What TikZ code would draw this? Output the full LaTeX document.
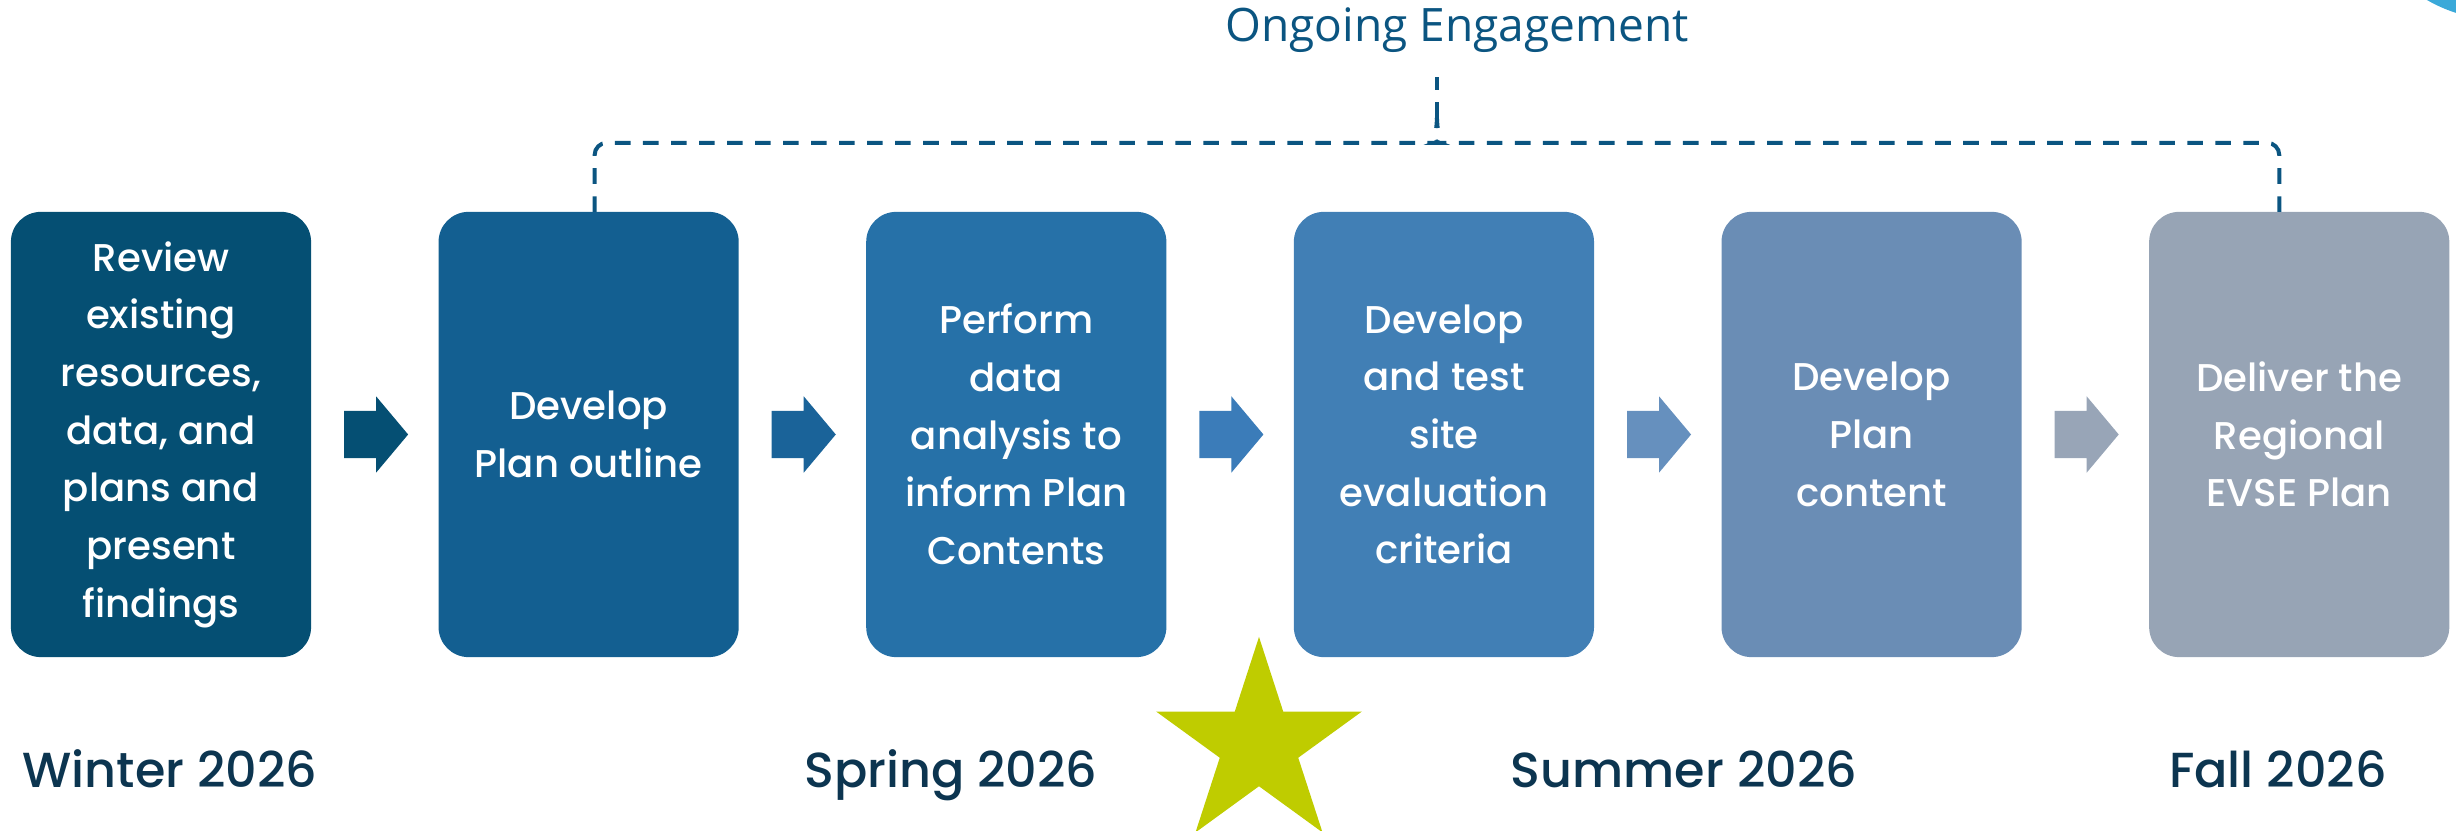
\documentclass[tikz,border=0pt]{standalone}
\usepackage{fontspec}
\setmainfont{Poppins Medium}
\newfontfamily\headfont{Open Sans}
\usepackage{xcolor}
\usetikzlibrary{calc,positioning,shapes.geometric,shapes.arrows}
\definecolor{stageA}{HTML}{054F73}
\definecolor{stageB}{HTML}{135F91}
\definecolor{stageC}{HTML}{2671A8}
\definecolor{stageD}{HTML}{417FB5}
\definecolor{stageE}{HTML}{6A8DB5}
\definecolor{stageF}{HTML}{97A4B5}
\definecolor{flowB}{HTML}{1A6399}
\definecolor{flowC}{HTML}{3B7CB9}
\definecolor{flowD}{HTML}{6690BE}
\definecolor{flowE}{HTML}{98A5B7}
\definecolor{linkblue}{HTML}{0B5581}
\definecolor{seasontext}{HTML}{0C3550}
\definecolor{goalyellow}{HTML}{BFCC00}
\definecolor{cornercyan}{HTML}{3AA9D9}
\tikzset{%
	stage/.style    = {rectangle, rounded corners=3mm, outer sep=0pt, minimum width=3cm, minimum height=4.45cm, text centered, align=center, text=white, font=\fontsize{11}{16.4}\selectfont},
	flow/.style     = {single arrow, anchor=west, outer sep=0pt, minimum height=6.4mm, inner xsep=0pt, inner ysep=2.3mm, single arrow head extend=1.45mm, single arrow tip angle=100},
	season/.style   = {anchor=base, text=seasontext, font=\fontsize{14}{17}\selectfont},
	bracket/.style  = {draw=linkblue, line width=0.4mm, dash pattern=on 1.56mm off 1.24mm},
	goal/.style     = {star, star points=5, star point ratio=2.62, minimum size=2.16cm, inner sep=0pt, fill=goalyellow},
}
\begin{document}
\begin{tikzpicture}[x=0.01cm,y=-0.01cm]
	\useasboundingbox (0,0) rectangle (2456,831);
	\begin{scope}
		\clip (0,0) rectangle (2456,831);
		\fill[cornercyan] (2502,-130) circle (1.5cm);
	\end{scope}
	
	\node[stage, fill=stageA] (b1) at (161,434.5) {Review\\existing\\resources,\\data, and\\plans and\\present\\findings};
	\node[stage, fill=stageB, right=1.274cm of b1] (b2) {Develop\\Plan outline};
	\node[stage, fill=stageC, right=1.274cm of b2] (b3) {Perform\\data\\analysis to\\inform Plan\\Contents};
	\node[stage, fill=stageD, right=1.274cm of b3] (b4) {Develop\\and test\\site\\evaluation\\criteria};
	\node[stage, fill=stageE, right=1.274cm of b4] (b5) {Develop\\Plan\\content};
	\node[stage, fill=stageF, right=1.274cm of b5] (b6) {Deliver the\\Regional\\EVSE Plan};
	
	\foreach \i/\c in {1/stageA,2/flowB,3/flowC,4/flowD,5/flowE}
		\node[flow, fill=\c] (a\i) at ($(b\i.east)+(33,0)$) {};
	
	\node[season] (winter) at (170,788) {Winter 2026};
	\node[season] (spring) at (951,788) {Spring 2026};
	\node[season] (summer) at (1684,788) {Summer 2026};
	\node[season] (fall) at (2278,788) {Fall 2026};
	\node[goal] (milestone) at (1259,745) {};
	
	\node[anchor=base, text=linkblue, font=\headfont\fontsize{13.1}{15}\selectfont] (engage) at (1457,42) {Ongoing Engagement};
	\coordinate (bl) at ($(b2.north)+(6,0)$);
	\coordinate (br) at ($(b6.north)+(-20,0)$);
	\coordinate (tip) at ($(bl)!0.5!(br)+(0,-94)$);
	\draw[bracket, rounded corners=1.2mm] (bl) |- ($(tip)+(-10,25)$) .. controls +(6,0) and +(0,10) .. (tip);
	\draw[bracket, rounded corners=1.2mm] (br) |- ($(tip)+(10,25)$) .. controls +(-6,0) and +(0,10) .. (tip);
	\draw[bracket] (tip) -- ($(tip)+(0,-41)$);
\end{tikzpicture}
\end{document}
